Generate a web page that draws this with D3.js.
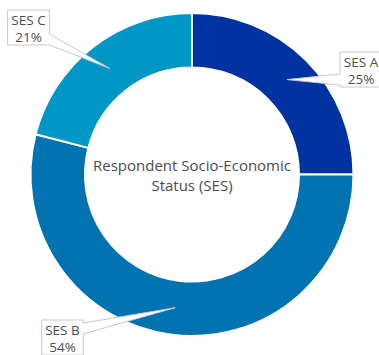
<!DOCTYPE html>
<html>
<head>
<meta charset="utf-8">
<script src="https://cdn.jsdelivr.net/npm/d3@7"></script>
<style>
  html, body { margin: 0; padding: 0; background: #fff; }
  svg { display: block; font-family: "Open Sans", sans-serif; }
</style>
</head>
<body>
<svg id="chart" width="379" height="355"></svg>
<script>
// SES breakdown of respondents (percent)
const categories = ["SES A", "SES B", "SES C"];
const shares = [25, 54, 21];
const colors = ["#0033a1", "#0073b0", "#0097c7"];
const titleLines = ["Respondent Socio-Economic", "Status (SES)"];

// callout box placement (centre x, top y) per category
const calloutLayout = {
  "SES A": { cx: 361, top: 52 },
  "SES B": { cx: 62.5, top: 320 },
  "SES C": { cx: 28.5, top: 10 }
};

const W = 379, H = 355;
const cx = 192, cy = 174.5;
const outerR = 161.5, innerR = 107;

const svg = d3.select("#chart");
const g = svg.append("g").attr("transform", `translate(${cx},${cy})`);

const data = categories.map((c, i) => ({ name: c, value: shares[i], color: colors[i] }));

const pie = d3.pie().sort(null).value(d => d.value);
const arc = d3.arc().innerRadius(innerR).outerRadius(outerR);
const arcs = pie(data);

g.selectAll("path.slice")
  .data(arcs)
  .join("path")
  .attr("class", "slice")
  .attr("d", arc)
  .attr("fill", d => d.data.color)
  .attr("stroke", "#fff")
  .attr("stroke-width", 2)
  .attr("stroke-linejoin", "round");

// centre title
const title = svg.append("text")
  .attr("x", cx)
  .attr("text-anchor", "middle")
  .attr("fill", "#4d4d4d")
  .attr("font-size", 15);
titleLines.forEach((t, i) => {
  title.append("tspan").attr("x", cx).attr("y", 171 + i * 20).text(t);
});

// callout labels with a pointer wedge to the slice centroid
const labelR = (innerR + outerR) / 2;
const anchorArc = d3.arc().innerRadius(labelR).outerRadius(labelR);
const lineH = 17, fs = 13.5, pad = 3.5, boxH = 35, half = 5.5;

arcs.forEach(a => {
  const lay = calloutLayout[a.data.name];
  const [ax0, ay0] = anchorArc.centroid(a);
  const ax = ax0 + cx, ay = ay0 + cy;

  const lg = svg.append("g");
  const txt = lg.append("text")
    .attr("text-anchor", "middle")
    .attr("fill", "#4d4d4d")
    .attr("font-size", fs);
  txt.append("tspan").attr("x", lay.cx).attr("y", lay.top + 15).text(a.data.name);
  txt.append("tspan").attr("x", lay.cx).attr("y", lay.top + 15 + lineH).text(a.data.value + "%");

  const tw = txt.node().getBBox().width;
  const bw = tw + pad * 2;
  const x0 = lay.cx - bw / 2, x1 = lay.cx + bw / 2;
  const y0 = lay.top, y1 = lay.top + boxH;
  const ny = Math.max(y0 + half + 3, Math.min(y1 - half, ay));

  let p;
  if (ax > x1) {
    p = `M${x0},${y0}H${x1}V${ny - half}L${ax},${ay}L${x1},${ny + half}V${y1}H${x0}Z`;
  } else {
    p = `M${x0},${y0}H${x1}V${y1}H${x0}V${ny + half}L${ax},${ay}L${x0},${ny - half}Z`;
  }
  lg.insert("path", "text")
    .attr("d", p)
    .attr("fill", "#fff")
    .attr("stroke", "#c8c8c8")
    .attr("stroke-width", 1)
    .attr("stroke-linejoin", "miter");
});
</script>
</body>
</html>
